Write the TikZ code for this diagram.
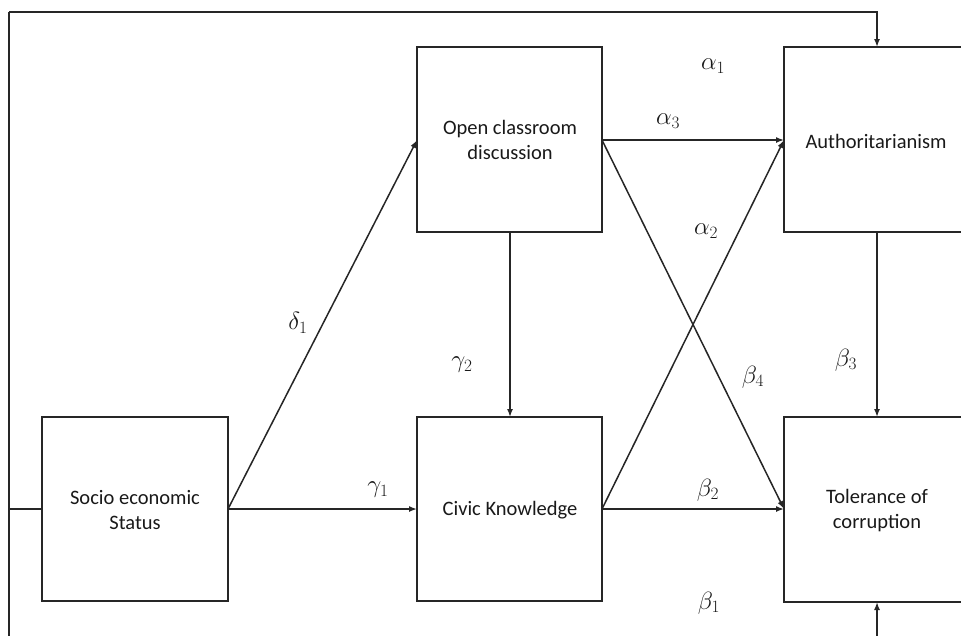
\documentclass[tikz,border=0pt]{standalone}
\usepackage{fontspec}
\setmainfont{Carlito}
\usetikzlibrary{arrows.meta}
\begin{document}
\begin{tikzpicture}[x=1pt,y=-1pt,
  ln/.style={line width=1.5pt,draw=black!85},
  arr/.style={ln,-{Latex[length=8pt,width=6pt]}},
  lbl/.style={font=\fontsize{24}{28}\selectfont,text=black!90},
  txt/.style={font=\fontsize{20.5}{25}\selectfont,align=center,text=black!90}]
\useasboundingbox (0,0) rectangle (961,635);
\clip (0,0) rectangle (961,635);
% boxes
\draw[ln] (42,417) rectangle (228,601);
\node[txt] (ses) at (135,510) {Socio economic\\Status};
\draw[ln] (417,47) rectangle (602,232);
\node[txt] (ocd) at (510,140) {Open classroom\\discussion};
\draw[ln] (417,417) rectangle (602,601);
\node[txt] (ck) at (510,510) {Civic Knowledge};
\draw[ln] (784,47) rectangle (1000,232);
\node[txt] (au) at (876,141) {Authoritarianism};
\draw[ln] (784,417) rectangle (1000,602);
\node[txt] (tc) at (877,511) {Tolerance of\\corruption};
% anchor coordinates
\coordinate (sesR) at (228,509);
\coordinate (sesL) at (42,509);
\coordinate (ocdL) at (417,140);
\coordinate (ocdR) at (602,140);
\coordinate (ocdB) at (510,232);
\coordinate (ckL) at (417,509);
\coordinate (ckR) at (602,509);
\coordinate (ckT) at (510,417);
\coordinate (auL) at (784,140);
\coordinate (auT) at (877,47);
\coordinate (auB) at (877,232);
\coordinate (tcL) at (784,509);
\coordinate (tcT) at (877,417);
\coordinate (tcB) at (877,602);
\coordinate (lt) at (9,12);
\coordinate (lb) at (9,650);
\coordinate (bb) at (877,650);
% connectors
\draw[arr] (sesR) -- (ocdL);
\draw[arr] (sesR) -- (ckL);
\draw[arr] (ocdB) -- (ckT);
\draw[arr] (ocdR) -- (auL);
\draw[arr] (ocdR) -- (tcL);
\draw[arr] (ckR) -- (auL);
\draw[arr] (ckR) -- (tcL);
\draw[arr] (auB) -- (tcT);
\draw[ln] (sesL) -- (lt |- sesL);
\draw[ln] (lb) -- (lt);
\draw[arr] (lt) -| (auT);
\draw[arr] (bb) -- (tcB);
% labels
\node[lbl] (d1) at (298,323) {$\delta_1$};
\node[lbl] (g1) at (378,490) {$\gamma_1$};
\node[lbl] (g2) at (462,365) {$\gamma_2$};
\node[lbl] (a1) at (713,66) {$\alpha_1$};
\node[lbl] (a3) at (668,121) {$\alpha_3$};
\node[lbl] (a2) at (706,231) {$\alpha_2$};
\node[lbl] (b3) at (846,360) {$\beta_3$};
\node[lbl] (b4) at (753,377) {$\beta_4$};
\node[lbl] (b2) at (708,490) {$\beta_2$};
\node[lbl] (b1) at (709,603) {$\beta_1$};
\end{tikzpicture}
\end{document}
